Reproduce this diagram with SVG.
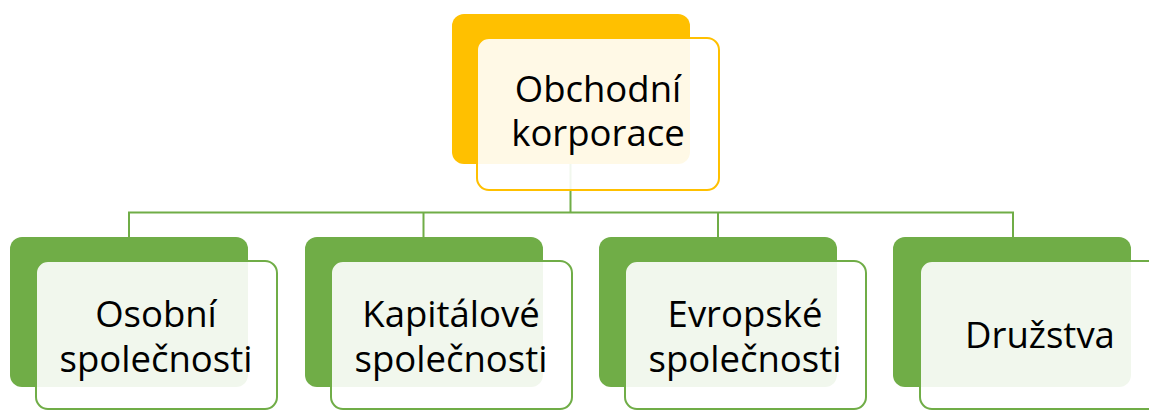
<svg xmlns="http://www.w3.org/2000/svg" width="1149" height="410" viewBox="0 0 1149 410">
<style>
.bg{fill:#ffffff}
.backG{fill:#70AD47}
.backY{fill:#FFC000}
.frontG{fill:#ffffff;fill-opacity:0.9;stroke:#70AD47;stroke-width:2}
.frontY{fill:#ffffff;fill-opacity:0.9;stroke:#FFC000;stroke-width:2}
.conn{fill:none;stroke:#70AD47;stroke-width:2}
.t{font-family:"Open Sans","Liberation Sans",sans-serif;font-size:36.5px;fill:#000000;text-anchor:middle}
</style>
<rect class="bg" x="0" y="0" width="1149" height="410"/>
<g id="connectors">
<path class="conn" d="M570.5,164 V212.5 M129,237 V212.5 H1013 V237 M423.5,212.5 V237 M718,212.5 V237"/>
</g>
<g id="node-obchodni-korporace">
<rect class="backY" x="452" y="14" width="238" height="150" rx="12"/>
<rect class="frontY" x="477" y="38" width="242" height="152" rx="12"/>
<text class="t" x="598" y="102">Obchodní</text>
<text class="t" x="598" y="146">korporace</text>
</g>
<g id="node-osobni">
<rect class="backG" x="10" y="237" width="238" height="150" rx="12"/>
<rect class="frontG" x="36" y="261" width="241" height="148" rx="12"/>
<text class="t" x="156" y="327">Osobní</text>
<text class="t" x="156" y="372">společnosti</text>
</g>
<g id="node-kapitalove">
<rect class="backG" x="305" y="237" width="238" height="150" rx="12"/>
<rect class="frontG" x="331" y="261" width="241" height="148" rx="12"/>
<text class="t" x="451" y="327">Kapitálové</text>
<text class="t" x="451" y="372">společnosti</text>
</g>
<g id="node-evropske">
<rect class="backG" x="599" y="237" width="238" height="150" rx="12"/>
<rect class="frontG" x="625" y="261" width="241" height="148" rx="12"/>
<text class="t" x="745" y="327">Evropské</text>
<text class="t" x="745" y="372">společnosti</text>
</g>
<g id="node-druzstva">
<rect class="backG" x="893" y="237" width="238" height="150" rx="12"/>
<rect class="frontG" x="920" y="261" width="241" height="148" rx="12"/>
<text class="t" x="1040" y="348">Družstva</text>
</g>
</svg>
